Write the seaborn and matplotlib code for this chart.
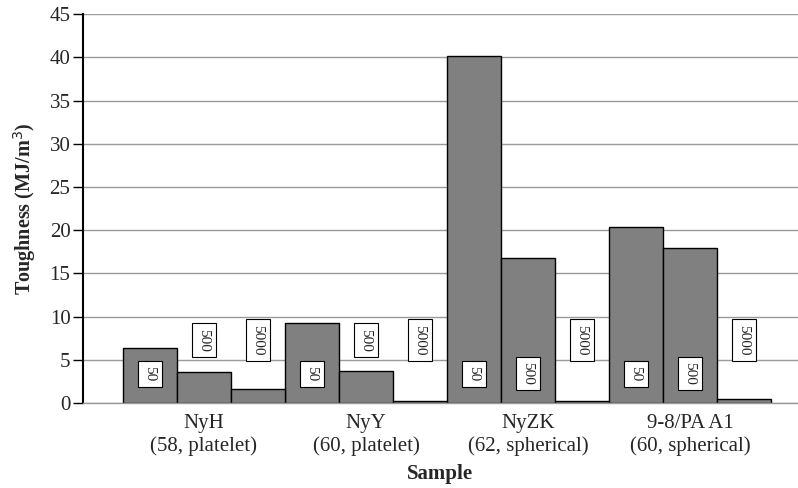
import pandas as pd
import numpy as np
import matplotlib
matplotlib.use("Agg")
import matplotlib.pyplot as plt
import seaborn as sns

# values
samples = ["NyH\n(58, platelet)", "NyY\n(60, platelet)", "NyZK\n(62, spherical)", "9-8/PA A1\n(60, spherical)"]
levels = ["50", "500", "5000"]
tough_50 = [6.4, 9.3, 40.2, 20.4]
tough_500 = [3.6, 3.7, 16.8, 18.0]
tough_5000 = [1.6, 0.2, 0.2, 0.5]

df = pd.DataFrame({
    "Sample": samples * 3,
    "level": [l for l in levels for _ in samples],
    "Toughness": tough_50 + tough_500 + tough_5000,
})

sns.set_style("white")
plt.rcParams["font.family"] = ["Liberation Serif", "DejaVu Serif"]

fig = plt.figure(figsize=(7.98, 4.88), dpi=100)
ax = fig.add_axes([0.104, 0.174, 0.896, 0.797])

ax.yaxis.grid(True, color="#9a9a9a", lw=1)
ax.set_axisbelow(True)

sns.barplot(data=df, x="Sample", y="Toughness", hue="level", hue_order=levels,
            palette=["#808080"] * 3, width=1, gap=0, edgecolor="black",
            linewidth=1, saturation=1, legend=False, ax=ax)

# boxed labels for each bar
for lev, cont in zip(levels, ax.containers):
    for bar in cont:
        h = bar.get_height()
        xc = bar.get_x() + bar.get_width() / 2
        yc = 3.4 if h > 5 else 7.3
        ax.text(xc, yc, lev, rotation=-90, ha="center", va="center", fontsize=11,
                bbox=dict(boxstyle="square,pad=0.35", fc="white", ec="black", lw=0.8))

ax.set_ylim(0, 45)
ax.set_yticks(range(0, 46, 5))
ax.set_xlim(-0.747, 3.667)
ax.tick_params(axis="y", length=7, width=1, color="black", labelsize=15, direction="out", left=True, pad=2)
ax.tick_params(axis="x", length=0, labelsize=15, pad=8)

for s in ["top", "right"]:
    ax.spines[s].set_visible(False)
ax.spines["left"].set_color("black")
ax.spines["left"].set_linewidth(1.5)
ax.spines["bottom"].set_color("#9a9a9a")
ax.spines["bottom"].set_linewidth(1)

ax.set_ylabel("Toughness (MJ/m$^3$)", fontsize=14.5, fontweight="bold", labelpad=8)
ax.set_xlabel("Sample", fontsize=15, fontweight="bold", labelpad=6)

fig.savefig("out.png", dpi=100)
